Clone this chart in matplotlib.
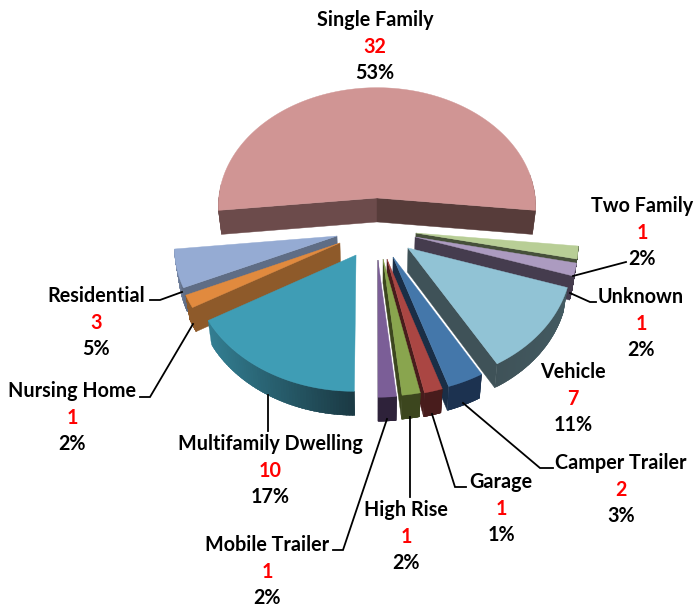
import numpy as np
import matplotlib
matplotlib.use("Agg")
import matplotlib.pyplot as plt

categories = ["Single Family", "Two Family", "Unknown", "Vehicle", "Camper Trailer", "Garage",
              "High Rise", "Mobile Trailer", "Multifamily Dwelling", "Nursing Home", "Residential"]
values = [32, 1, 1, 7, 2, 1, 1, 1, 10, 1, 3]
percent_labels = ["53%", "2%", "2%", "11%", "3%", "1%", "2%", "2%", "17%", "2%", "5%"]

# Styling / layout, kept apart from the data
top_colors = ["#D09594", "#B8CE96", "#AC9BC0", "#91C3D5", "#4477AA", "#AA4643",
              "#89A54E", "#7B5E97", "#3F9DB5", "#E18A3E", "#95ABD3"]
cut_colors = ["#6C4B4B", "#46503A", "#453C4E", "#3F5258", "#1A2E46", "#481C1C",
              "#3C461E", "#2E223A", "#1C3F4A", "#8E5A2A", "#5F6D85"]
rim_left = ["#6C4B4B", "#46503A", "#453C4E", "#3F5258", "#1C3250", "#481C1C",
            "#3C461E", "#2E223A", "#337F93", "#8E5A2A", "#7F90B0"]
rim_right = ["#573C3A", "#46503A", "#453C4E", "#435A61", "#1C3250", "#481C1C",
             "#3C461E", "#2E223A", "#1B3A44", "#8E5A2A", "#5F6D85"]
offset_x = [0.0, 0.241, 0.235, 0.190, 0.098, 0.061, 0.037, 0.006, -0.128, -0.228, -0.247]
offset_y = [0.323, 0.032, 0.0, -0.088, -0.160, -0.176, -0.176, -0.184, -0.144, -0.048, 0.008]
draw_order = [0, 1, 2, 10, 9, 8, 3, 4, 5, 6, 7]
label_x = [375, 642, 641, 573, 621, 501, 406, 267, 270, 72, 96]
label_y = [20, 206, 297, 372, 463, 482, 510, 545, 444, 391, 296]
leaders = [
    [(573, 276), (626, 262)],
    [(570, 293), (590, 302), (596, 302)],
    [(463, 403), (540, 468), (553, 468)],
    [(432, 414), (455, 487), (466, 487)],
    [(410, 417), (410, 497)],
    [(387, 419), (343, 550), (333, 550)],
    [(268, 395), (268, 431)],
    [(193, 324), (150, 397), (140, 397)],
    [(182, 292), (160, 300), (150, 300)],
]
CX, CY, A0, B0, K, HEIGHT, SHRINK = 377, 237, 162, 123.7, 0.0726, 24, 0.02
START_DEG = 186.0
FONT = "Lato"
FS = 14.2


def project(x, y, bottom=False):
    d = 1 + K * y
    sx = CX + A0 * x / d
    sy = CY - B0 * y / d
    if bottom:
        sx = CX + (sx - CX) * (1 - SHRINK)
        sy = sy + HEIGHT
    return sx, sy


def lerp_color(c1, c2, t):
    a = np.array(matplotlib.colors.to_rgb(c1))
    b = np.array(matplotlib.colors.to_rgb(c2))
    return tuple(a + (b - a) * t)


fig = plt.figure(figsize=(6.94, 6.07), dpi=100, facecolor="white")
ax = fig.add_axes([0, 0, 1, 1])
ax.set_xlim(0, 694)
ax.set_ylim(607, 0)
ax.axis("off")

spans = np.array(values, dtype=float) / sum(values) * 360
ends = np.cumsum(spans)
# Slices run clockwise from the left end of the first slice
starts_hi = START_DEG - np.concatenate([[0], ends[:-1]])
starts_lo = START_DEG - ends

z = 1
for i in draw_order:
    lo, hi = np.radians(starts_lo[i]), np.radians(starts_hi[i])
    ox, oy = offset_x[i], offset_y[i]
    t = np.linspace(lo, hi, max(6, int(spans[i])))
    rx, ry = ox + np.cos(t), oy + np.sin(t)

    apex_t = project(ox, oy)
    apex_b = project(ox, oy, bottom=True)

    def cut_face(angle, color):
        p_t = project(ox + np.cos(angle), oy + np.sin(angle))
        p_b = project(ox + np.cos(angle), oy + np.sin(angle), bottom=True)
        xs = [apex_t[0], p_t[0], p_b[0], apex_b[0]]
        ys = [apex_t[1], p_t[1], p_b[1], apex_b[1]]
        ax.fill(xs, ys, color=color, lw=0.3, zorder=z)

    if np.cos(hi) < 0:
        cut_face(hi, cut_colors[i] if i != 0 else rim_left[0])
    if np.cos(lo) > 0:
        cut_face(lo, cut_colors[i] if i != 0 else rim_right[0])

    # outer rim, split in overlapping strips to carry the shading
    tt = np.linspace(lo, hi, 61)
    xs_all = np.array([project(ox + np.cos(a), oy + np.sin(a))[0] for a in tt])
    span_x = max(xs_all.max() - xs_all.min(), 1)
    step = tt[1] - tt[0]
    for a0 in tt[:-1]:
        a1 = min(a0 + 2.5 * step, hi)
        if np.sin(a0 + step / 2) > 0.12:
            continue
        p0 = project(ox + np.cos(a0), oy + np.sin(a0))
        p1 = project(ox + np.cos(a1), oy + np.sin(a1))
        q0 = project(ox + np.cos(a0), oy + np.sin(a0), bottom=True)
        q1 = project(ox + np.cos(a1), oy + np.sin(a1), bottom=True)
        f = ((p0[0] + p1[0]) / 2 - xs_all.min()) / span_x
        col = lerp_color(rim_left[i], rim_right[i], f)
        ax.fill([p0[0], p1[0], q1[0], q0[0]], [p0[1], p1[1], q1[1], q0[1]],
                color=col, lw=0.2, zorder=z)

    sx, sy = project(rx, ry)
    ax.fill(np.r_[apex_t[0], sx], np.r_[apex_t[1], sy], color=top_colors[i], lw=0.3, zorder=z + 0.5)
    z += 1

for pts in leaders:
    xs, ys = zip(*pts)
    ax.plot(xs, ys, color="black", lw=1.3, zorder=50, solid_joinstyle="miter")

for name, val, pct, x, y in zip(categories, values, percent_labels, label_x, label_y):
    ax.text(x, y, name, ha="center", va="center", fontsize=FS, fontweight="bold",
            family=FONT, color="black", zorder=60)
    ax.text(x, y + 27, str(val), ha="center", va="center", fontsize=FS, fontweight="bold",
            family=FONT, color="#FF0000", zorder=60)
    ax.text(x, y + 53, pct, ha="center", va="center", fontsize=FS, fontweight="bold",
            family=FONT, color="black", zorder=60)

fig.savefig("out.png", dpi=100, facecolor="white")
